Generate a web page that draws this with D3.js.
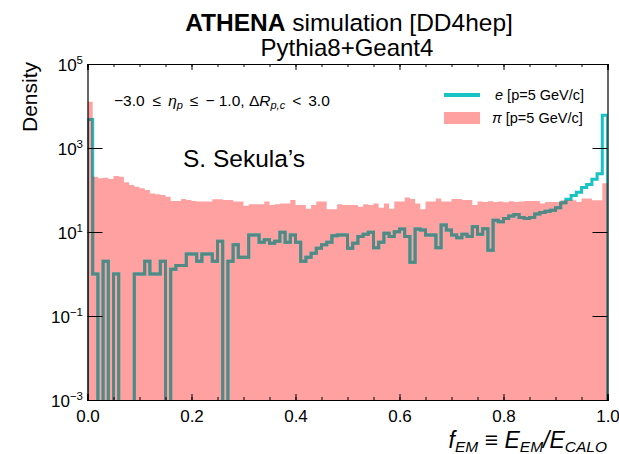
<!DOCTYPE html>
<html>
<head>
<meta charset="utf-8">
<script src="https://cdn.jsdelivr.net/npm/d3@7"></script>
<style>
body { margin: 0; background: #fff; }
text { font-family: 'Liberation Sans', Arial, sans-serif; fill: #000; }
</style>
</head>
<body>
<svg id="chart" width="619" height="454"></svg>
<script>
// one value per bin of width 0.01 in f_EM
const pionDensity = [
  12600, 207, 191, 196, 182, 214, 207, 152, 131, 120,
  110, 100, 83, 79, 76, 69, 55, 55, 61, 58,
  55, 53, 53, 53, 60, 60, 58, 58, 53, 53,
  42, 46, 46, 46, 53, 44, 46, 48, 48, 58,
  44, 44, 36, 44, 53, 53, 35, 35, 46, 44,
  44, 44, 40, 46, 44, 48, 38, 48, 36, 53,
  53, 66, 61, 48, 35, 53, 53, 63, 53, 53,
  61, 61, 58, 58, 44, 53, 52, 54, 52, 53,
  51, 54, 52, 53, 55, 55, 55, 48, 52, 52,
  52, 57, 57, 57, 52, 63, 63, 57, 57, 145
]
const electronDensity = [
  4800, 1, 0, 2, 0, 1, 0, 0, 0, 1,
  1, 2, 1, 1, 2, 0, 1.3, 1.6, 1.6, 3,
  3, 2, 3, 3, 2, 6, 0, 2, 5, 2.5,
  2.5, 8.5, 8.5, 5.7, 6.5, 5.4, 6, 9.8, 5.7, 8.5,
  5.7, 2, 2.5, 3.1, 4.1, 5, 5.7, 8.1, 8.5, 8.5,
  4.1, 5.4, 7.8, 8.8, 9.8, 4.2, 5.7, 9.3, 7.8, 10.2,
  11.8, 7.8, 1.9, 11.8, 11.1, 8.5, 8.5, 4.2, 14.7, 11.1,
  8.5, 7.3, 8.8, 7.8, 13.4, 8.8, 12, 3.7, 19, 17.6,
  21, 24, 26, 22, 21, 22, 27, 29, 31, 33,
  38, 50, 60, 74, 88, 115, 135, 180, 245, 6000
]
const xTickValues = [0, 0.2, 0.4, 0.6, 0.8, 1.0]
const yTickExponents = [-3, -1, 1, 3, 5]

const svg = d3.select('#chart')
const x = d3.scaleLinear().domain([0, 1]).range([87.5, 607.5])
const y = d3.scaleLog().domain([1e-3, 1e5]).range([400, 64])
const nBins = pionDensity.length
const edges = d3.range(nBins + 1).map(i => i / nBins)

// step outline, empty bins fall below the frame (clipped)
const stepPoints = (vals, floor) => {
    let pts = [[0, floor]]
    vals.forEach((v, i) => {
        let vv = v > 0 ? v : floor
        pts.push([edges[i], vv], [edges[i + 1], vv])
    })
    pts.push([1, floor])
    return pts
}
const line = d3.line().x(d => x(d[0])).y(d => y(d[1]))

const defs = svg.append('defs')
defs.append('clipPath').attr('id', 'plotclip')
    .append('rect')
    .attr('x', x(0)).attr('y', y(1e5))
    .attr('width', x(1) - x(0)).attr('height', y(1e-3) - y(1e5))
defs.append('clipPath').attr('id', 'pionclip')
    .append('path')
    .attr('d', line(stepPoints(pionDensity, 1e-3)) + 'Z')

const plot = svg.append('g').attr('clip-path', 'url(#plotclip)')

plot.append('path')
    .attr('d', line(stepPoints(pionDensity, 1e-3)) + 'Z')
    .attr('fill', '#ffa1a1')
    .attr('stroke', 'none')

let ePath = line(stepPoints(electronDensity, 1e-5))
plot.append('path')
    .attr('d', ePath)
    .attr('fill', 'none')
    .attr('stroke', '#17c3c3')
    .attr('stroke-width', 3)
plot.append('path')
    .attr('d', ePath)
    .attr('clip-path', 'url(#pionclip)')
    .attr('fill', 'none')
    .attr('stroke', '#568883')
    .attr('stroke-width', 3)

// axes, ticks pointing inward
const minorX = d3.range(0, 1.0001, 0.05)
svg.append('g').attr('transform', `translate(0,${y(1e-3)})`)
    .call(d3.axisBottom(x).tickValues(minorX).tickSize(-3).tickFormat(''))
svg.append('g').attr('transform', `translate(0,${y(1e5)})`)
    .call(d3.axisTop(x).tickValues(minorX).tickSize(-3).tickFormat(''))
svg.append('g').attr('transform', `translate(0,${y(1e-3)})`)
    .call(d3.axisBottom(x).tickValues(xTickValues).tickSize(-6).tickPadding(10)
        .tickFormat(d3.format('.1f')))
svg.append('g').attr('transform', `translate(0,${y(1e5)})`)
    .call(d3.axisTop(x).tickValues(xTickValues).tickSize(-6).tickFormat(''))
const yTickVals = yTickExponents.map(e => Math.pow(10, e))
svg.append('g').attr('transform', `translate(${x(0)},0)`)
    .call(d3.axisLeft(y).tickValues(yTickVals).tickSize(-15).tickFormat(''))
svg.append('g').attr('transform', `translate(${x(1)},0)`)
    .call(d3.axisRight(y).tickValues(yTickVals).tickSize(-15).tickFormat(''))
svg.selectAll('.domain').attr('stroke', '#000').attr('stroke-width', 1.2)
svg.selectAll('.tick line').attr('stroke', '#000').attr('stroke-width', 1)
svg.selectAll('.tick text').attr('font-size', 17).attr('fill', '#000')
    .attr('font-family', 'Liberation Sans, Arial, sans-serif')

// y tick labels as 10^n
yTickExponents.forEach(e => {
    let t = svg.append('text')
        .attr('x', 83).attr('y', y(Math.pow(10, e)) + 7)
        .attr('text-anchor', 'end')
        .attr('font-size', 17)
    t.append('tspan').text('10')
    t.append('tspan').attr('dy', -7).attr('font-size', 11.5)
        .text(e < 0 ? '\u2212' + Math.abs(e) : e)
})

// titles
let t1 = svg.append('text').attr('x', 349).attr('y', 31)
    .attr('text-anchor', 'middle').attr('font-size', 24.5)
t1.append('tspan').attr('font-weight', 'bold').text('ATHENA')
t1.append('tspan').text(' simulation [DD4hep]')
svg.append('text').attr('x', 347).attr('y', 56)
    .attr('text-anchor', 'middle').attr('font-size', 24)
    .text('Pythia8+Geant4')

svg.append('text')
    .attr('transform', 'translate(37,62) rotate(-90)')
    .attr('text-anchor', 'end').attr('font-size', 21)
    .text('Density')

// x label
let xl = svg.append('text').attr('x', 607).attr('y', 448)
    .attr('text-anchor', 'end').attr('font-size', 23)
xl.append('tspan').attr('font-style', 'italic').text('f')
xl.append('tspan').attr('font-style', 'italic').attr('font-size', 15.5).attr('dy', 4).text('EM')
xl.append('tspan').attr('dy', -4).text(' \u2261 ')
xl.append('tspan').attr('font-style', 'italic').text('E')
xl.append('tspan').attr('font-style', 'italic').attr('font-size', 15.5).attr('dy', 4).text('EM')
xl.append('tspan').attr('font-style', 'italic').attr('dy', -4).text('/E')
xl.append('tspan').attr('font-style', 'italic').attr('font-size', 15.5).attr('dy', 4).text('CALO')

// selection annotation
let an = svg.append('text').attr('x', 114).attr('y', 106).attr('font-size', 15.5)
an.append('tspan').text('\u22123.0')
an.append('tspan').attr('dx', 8).text('\u2264')
an.append('tspan').attr('dx', 7).attr('font-style', 'italic').text('\u03b7')
an.append('tspan').attr('font-style', 'italic').attr('font-size', 11).attr('dy', 3).text('p')
an.append('tspan').attr('dx', 7).attr('dy', -3).text('\u2264')
an.append('tspan').attr('dx', 7).text('\u2212 1.0,  \u0394')
an.append('tspan').attr('font-style', 'italic').text('R')
an.append('tspan').attr('font-style', 'italic').attr('font-size', 11).attr('dy', 3).text('p,c')
an.append('tspan').attr('dx', 7).attr('dy', -3).text('<')
an.append('tspan').attr('dx', 7).text('3.0')

svg.append('text').attr('x', 183).attr('y', 167).attr('font-size', 24.5)
    .text('S. Sekula\u2019s')

// legend
svg.append('line').attr('x1', 444).attr('x2', 480).attr('y1', 95).attr('y2', 95)
    .attr('stroke', '#17c3c3').attr('stroke-width', 4)
let le = svg.append('text').attr('x', 495).attr('y', 100).attr('font-size', 14.5)
le.append('tspan').attr('font-style', 'italic').text('e')
le.append('tspan').text(' [p=5 GeV/c]')
svg.append('rect').attr('x', 444).attr('y', 112).attr('width', 36).attr('height', 12)
    .attr('fill', '#ffa1a1')
let lp = svg.append('text').attr('x', 492).attr('y', 123).attr('font-size', 14.5)
lp.append('tspan').attr('font-style', 'italic').text('\u03c0')
lp.append('tspan').text(' [p=5 GeV/c]')
</script>
</body>
</html>
